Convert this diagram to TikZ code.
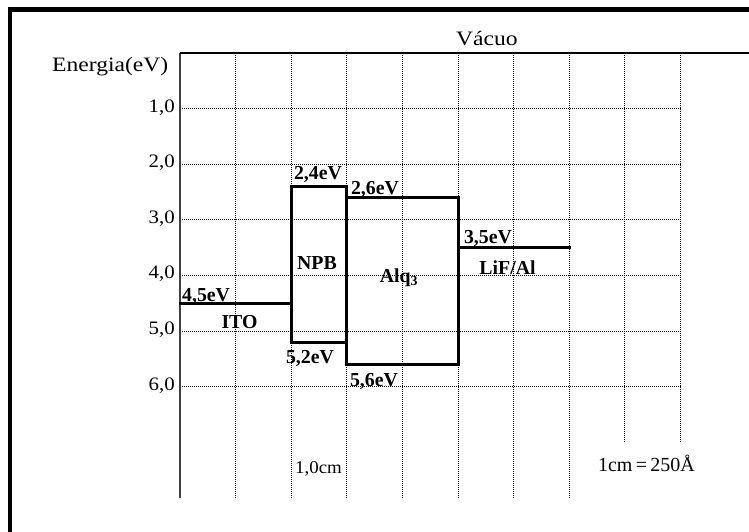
\documentclass[tikz,border=0pt]{standalone}
\usepackage{fontspec}
\setmainfont{Liberation Serif}
\usepackage{graphicx}
\newcommand{\sxt}[2][1.12]{\scalebox{#1}[1]{#2}}
\begin{document}
\begin{tikzpicture}[x=1pt,y=-1pt,
  gridline/.style={line width=0.9pt, dash pattern=on 1pt off 1pt},
  level/.style={line width=3pt, line cap=rect},
  framing/.style={line width=4.5pt},
  axisline/.style={line width=1.5pt, black!75},
  vacline/.style={line width=2.5pt},
  ticklbl/.style={anchor=base east, inner sep=0pt, font=\fontsize{19}{19}\selectfont},
  lbl/.style={anchor=base, inner sep=0pt, font=\bfseries\fontsize{19.8}{19.8}\selectfont},
  txt/.style={inner sep=0pt, font=\fontsize{20.5}{20.5}\selectfont}]
\useasboundingbox (0,0) rectangle (749,532);
% outer frame (clipped at right and bottom)
\draw[framing] (10,540) -- (10,9.5) -- (760,9.5);
% grid
\foreach \k in {1,...,7} \draw[gridline] ({180+55.6*\k},53) -- ({180+55.6*\k},498);
\foreach \k in {8,9} \draw[gridline] ({180+55.6*\k},53) -- ({180+55.6*\k},442);
\foreach \j in {1,...,6} \draw[gridline] (180,{53+55.6*\j}) -- (681,{53+55.6*\j});
% axis and vacuum level
\coordinate (o) at (180,53);
\coordinate (ob) at (180,498);
\coordinate (vr) at (760,53);
\draw[axisline] (o) -- (ob);
\draw[vacline] (o) -- (vr);
% tick labels
\foreach \j/\t in {1/{1,0},2/{2,0},3/{3,0},4/{4,0},5/{5,0},6/{6,0}}
  \node[ticklbl] (t\j) at (175,{53+55.6*\j+3.5}) {\sxt[1.1]{\t}};
\node[txt, anchor=base west] (energia) at (52,71.7) {\sxt[1.15]{Energia(eV)}};
\node[txt, anchor=base west] (vacuo) at (456,46) {\sxt[1.15]{Vácuo}};
% energy levels
\coordinate (itoL) at (180,303.2);
\coordinate (itoR) at (291.2,303.2);
\coordinate (npbTL) at (291.2,186.4);
\coordinate (npbBR) at (346.8,342.1);
\coordinate (alqTL) at (346.8,197.6);
\coordinate (alqBR) at (458,364.4);
\coordinate (lifL) at (458,247.6);
\coordinate (lifR) at (569.2,247.6);
\draw[level] (itoL) -- (itoR);
\draw[level] (npbTL) rectangle (npbBR);
\draw[level] (alqTL) rectangle (alqBR);
\draw[level] (lifL) -- (lifR);
% level labels
\node[lbl, anchor=base west] (l45) at (182,301) {4,5eV};
\node[lbl] (lito) at (239.5,328) {ITO};
\node[lbl] (l24) at (318,179.5) {2,4eV};
\node[lbl] (l26) at (375,194) {2,6eV};
\node[lbl] (lnpb) at (317,269) {NPB};
\node[lbl] (lalq) at (399,282) {Alq\textsubscript{3}};
\node[lbl] (l35) at (488,243) {3,5eV};
\node[lbl] (llif) at (507.5,274) {LiF/Al};
\node[lbl] (l52) at (310,363.5) {5,2eV};
\node[lbl] (l56) at (374,386.5) {5,6eV};
% scale notes
\node[anchor=base, inner sep=0pt, font=\fontsize{18}{18}\selectfont] (cm) at (318.5,473) {\sxt[1.05]{1,0cm}};
\node[anchor=base, inner sep=0pt, font=\fontsize{20}{20}\selectfont] (scale) at (646.5,471) {1cm\,=\,250Å};
\end{tikzpicture}
\end{document}
